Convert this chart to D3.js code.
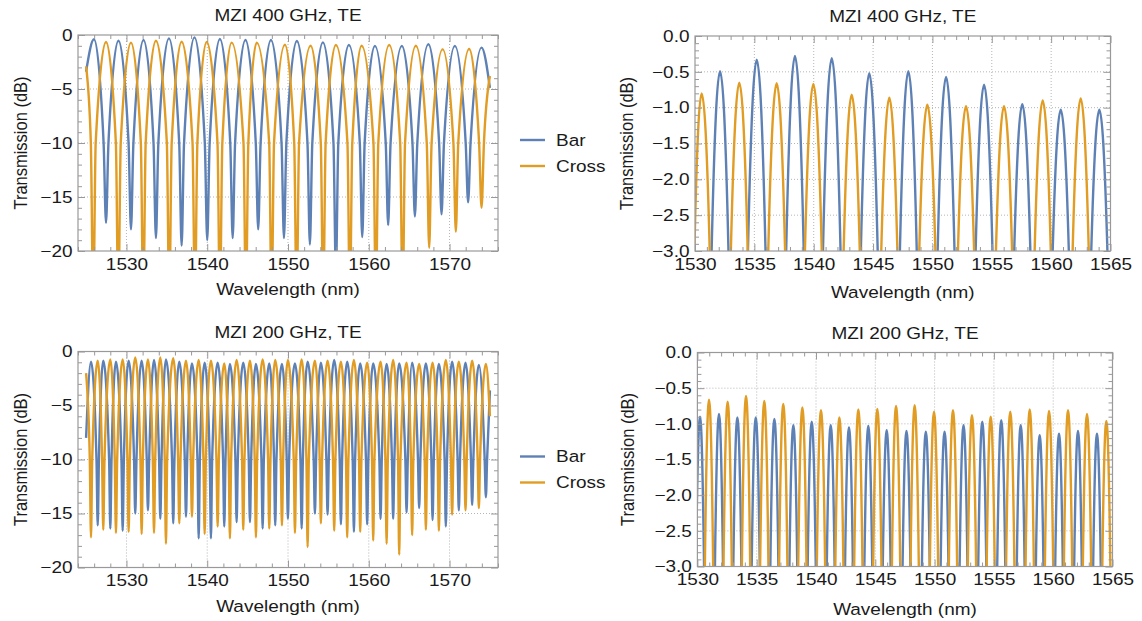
<!DOCTYPE html>
<html>
<head>
<meta charset="UTF-8">
<title>MZI transmission</title>
<script src="https://cdn.jsdelivr.net/npm/d3@7"></script>
<style>
  body { margin: 0; background: #fff; }
  svg text { font-family: "Liberation Sans", Arial, sans-serif; fill: #1a1a1a; }
</style>
</head>
<body>
<script>

// ---- data: [wavelength (nm), transmission (dB)] ----
// 400 GHz, full band
var tlBar = [
  [1525.00,-3.4],[1525.98,-0.40],
  [1527.17,-10],[1527.47,-17.4],[1527.77,-10],[1529.01,-0.53],
  [1530.26,-10],[1530.56,-18.0],[1530.86,-10],[1532.11,-0.46],
  [1533.35,-10],[1533.65,-18.8],[1533.95,-10],[1535.26,-0.31],
  [1536.53,-10],[1536.83,-19.5],[1537.13,-10],[1538.42,-0.22],
  [1539.70,-10],[1540.00,-19.0],[1540.30,-10],[1541.57,-0.37],
  [1542.85,-10],[1543.15,-18.8],[1543.45,-10],[1544.73,-0.46],
  [1546.01,-10],[1546.31,-18.0],[1546.61,-10],[1547.89,-0.46],
  [1549.20,-10],[1549.50,-18.8],[1549.80,-10],[1551.10,-0.55],
  [1552.41,-10],[1552.71,-19.4],[1553.01,-10],[1554.32,-0.68],
  [1555.63,-10],[1555.93,-22.0],[1556.23,-10],[1557.54,-0.93],
  [1558.89,-10],[1559.19,-18.7],[1559.49,-10],[1560.76,-1.02],
  [1562.10,-10],[1562.40,-17.6],[1562.70,-10],[1564.10,-1.02],
  [1565.41,-10],[1565.71,-16.8],[1566.01,-10],[1567.38,-0.86],
  [1568.71,-10],[1569.01,-16.6],[1569.31,-10],[1570.66,-1.02],
  [1572.00,-10],[1572.30,-15.5],[1572.60,-10],[1573.96,-1.17],
  [1575.00,-4.9]
];
var tlCross = [
  [1525.00,-2.9],
  [1525.59,-10],[1525.89,-25],[1526.19,-10],[1527.47,-0.65],
  [1528.69,-10],[1528.99,-25],[1529.29,-10],[1530.56,-0.71],
  [1531.78,-10],[1532.08,-25],[1532.38,-10],[1533.65,-0.53],
  [1535.00,-10],[1535.30,-25],[1535.60,-10],[1536.83,-0.62],
  [1538.18,-10],[1538.48,-25],[1538.78,-10],[1539.93,-0.65],
  [1541.27,-10],[1541.57,-25],[1541.87,-10],[1543.02,-0.71],
  [1544.49,-10],[1544.79,-25],[1545.09,-10],[1546.12,-0.71],
  [1547.67,-10],[1547.97,-25],[1548.27,-10],[1549.62,-0.90],
  [1550.77,-10],[1551.07,-25],[1551.37,-10],[1552.80,-0.99],
  [1554.06,-10],[1554.36,-25],[1554.66,-10],[1555.93,-0.93],
  [1557.36,-10],[1557.66,-25],[1557.96,-10],[1559.11,-0.99],
  [1560.58,-10],[1560.88,-25],[1561.18,-10],[1562.53,-0.93],
  [1563.89,-10],[1564.19,-25],[1564.49,-10],[1565.83,-0.99],
  [1567.18,-10],[1567.48,-19.7],[1567.78,-10],[1569.14,-1.33],
  [1570.48,-10],[1570.78,-18.2],[1571.08,-10],[1572.43,-1.30],
  [1573.66,-10],[1573.96,-16.0],[1574.26,-10],
  [1575.00,-3.8]
];

// 400 GHz, 1530-1565 close-up
var trBar = [
  [1530.56,-20],
  [1531.40,-3],[1532.11,-0.49],[1532.82,-3],[1533.73,-20],
  [1534.46,-3],[1535.20,-0.33],[1535.94,-3],[1536.88,-20],
  [1537.68,-3],[1538.42,-0.28],[1539.16,-3],[1539.97,-20],
  [1540.78,-3],[1541.52,-0.31],[1542.26,-3],[1543.20,-20],
  [1543.97,-3],[1544.68,-0.52],[1545.39,-3],[1546.37,-20],
  [1547.26,-3],[1547.97,-0.49],[1548.68,-3],[1549.57,-20],
  [1550.44,-3],[1551.15,-0.57],[1551.86,-3],[1552.83,-20],
  [1553.64,-3],[1554.35,-0.68],[1555.06,-3],[1556.03,-20],
  [1556.89,-3],[1557.57,-0.95],[1558.25,-3],[1559.29,-20],
  [1560.13,-3],[1560.81,-1.03],[1561.49,-3],[1562.49,-20],
  [1563.38,-3],[1564.06,-1.03],[1564.74,-3],[1565.60,-20]
];
var trCross = [
  [1529.00,-20],
  [1529.95,-3],[1530.56,-0.80],[1531.24,-3],[1532.11,-20],
  [1533.02,-3],[1533.73,-0.65],[1534.44,-3],[1535.20,-20],
  [1536.17,-3],[1536.88,-0.66],[1537.59,-3],[1538.42,-20],
  [1539.26,-3],[1539.97,-0.67],[1540.68,-3],[1541.52,-20],
  [1542.52,-3],[1543.20,-0.82],[1543.88,-3],[1544.68,-20],
  [1545.69,-3],[1546.37,-0.86],[1547.05,-3],[1547.97,-20],
  [1548.89,-3],[1549.57,-0.96],[1550.25,-3],[1551.15,-20],
  [1552.15,-3],[1552.83,-0.98],[1553.51,-3],[1554.35,-20],
  [1555.35,-3],[1556.03,-0.98],[1556.71,-3],[1557.57,-20],
  [1558.61,-3],[1559.29,-0.90],[1559.97,-3],[1560.81,-20],
  [1561.81,-3],[1562.49,-0.87],[1563.17,-3],[1564.06,-20]
];

// 200 GHz, full band
var blBar = [
  [1525.00,-8.0],[1525.61,-0.94],
  [1526.29,-10],[1526.44,-16.1],[1526.59,-10],[1527.13,-0.85],
  [1527.85,-10],[1528.00,-16.4],[1528.15,-10],[1528.70,-0.94],
  [1529.38,-10],[1529.53,-16.6],[1529.68,-10],[1530.27,-0.85],
  [1530.94,-10],[1531.09,-15.0],[1531.24,-10],[1531.88,-0.85],
  [1532.51,-10],[1532.66,-14.7],[1532.81,-10],[1533.41,-0.79],
  [1534.04,-10],[1534.19,-15.5],[1534.34,-10],[1534.89,-0.73],
  [1535.64,-10],[1535.79,-15.9],[1535.94,-10],[1536.54,-0.94],
  [1537.22,-10],[1537.37,-15.3],[1537.52,-10],[1538.11,-1.10],
  [1538.79,-10],[1538.94,-17.3],[1539.09,-10],[1539.68,-1.03],
  [1540.31,-10],[1540.46,-17.3],[1540.61,-10],[1541.29,-1.03],
  [1541.96,-10],[1542.11,-16.2],[1542.26,-10],[1542.81,-1.16],
  [1543.49,-10],[1543.64,-15.8],[1543.79,-10],[1544.46,-1.03],
  [1545.14,-10],[1545.29,-15.8],[1545.44,-10],[1546.03,-1.16],
  [1546.71,-10],[1546.86,-16.4],[1547.01,-10],[1547.68,-1.10],
  [1548.27,-10],[1548.42,-16.1],[1548.57,-10],[1549.25,-1.16],
  [1549.84,-10],[1549.99,-15.5],[1550.14,-10],[1550.86,-1.10],
  [1551.54,-10],[1551.69,-16.4],[1551.84,-10],[1552.43,-0.94],
  [1553.18,-10],[1553.33,-15.0],[1553.48,-10],[1554.07,-1.03],
  [1554.75,-10],[1554.90,-15.1],[1555.05,-10],[1555.72,-0.79],
  [1556.40,-10],[1556.55,-16.0],[1556.70,-10],[1557.33,-0.94],
  [1558.01,-10],[1558.16,-16.7],[1558.31,-10],[1558.94,-1.10],
  [1559.65,-10],[1559.80,-16.0],[1559.95,-10],[1560.55,-1.10],
  [1561.31,-10],[1561.46,-15.5],[1561.61,-10],[1562.21,-1.16],
  [1562.87,-10],[1563.02,-15.5],[1563.17,-10],[1563.77,-1.10],
  [1564.53,-10],[1564.68,-14.9],[1564.83,-10],[1565.37,-1.03],
  [1566.09,-10],[1566.24,-14.5],[1566.39,-10],[1567.07,-1.10],
  [1567.75,-10],[1567.90,-15.6],[1568.05,-10],[1568.68,-1.16],
  [1569.39,-10],[1569.54,-16.2],[1569.69,-10],[1570.32,-0.94],
  [1571.00,-10],[1571.15,-14.7],[1571.30,-10],[1571.98,-1.03],
  [1572.65,-10],[1572.80,-14.2],[1572.95,-10],[1573.63,-1.25],
  [1574.35,-10],[1574.50,-13.5],[1574.65,-10],
  [1575.00,-3.6]
];
var blCross = [
  [1525.00,-2.0],
  [1525.46,-10],[1525.61,-17.2],[1525.76,-10],[1526.44,-0.85],
  [1526.98,-10],[1527.13,-16.5],[1527.28,-10],[1528.00,-0.73],
  [1528.55,-10],[1528.70,-16.8],[1528.85,-10],[1529.53,-0.73],
  [1530.12,-10],[1530.27,-16.7],[1530.42,-10],[1531.09,-0.54],
  [1531.73,-10],[1531.88,-16.9],[1532.03,-10],[1532.66,-0.73],
  [1533.26,-10],[1533.41,-16.8],[1533.56,-10],[1534.19,-0.54],
  [1534.74,-10],[1534.89,-17.8],[1535.04,-10],[1535.79,-0.63],
  [1536.39,-10],[1536.54,-15.9],[1536.69,-10],[1537.37,-0.85],
  [1537.96,-10],[1538.11,-15.3],[1538.26,-10],[1538.94,-0.79],
  [1539.53,-10],[1539.68,-16.9],[1539.83,-10],[1540.46,-0.85],
  [1541.14,-10],[1541.29,-16.2],[1541.44,-10],[1542.11,-1.10],
  [1542.66,-10],[1542.81,-17.3],[1542.96,-10],[1543.64,-0.79],
  [1544.31,-10],[1544.46,-16.5],[1544.61,-10],[1545.29,-0.85],
  [1545.88,-10],[1546.03,-17.2],[1546.18,-10],[1546.86,-0.73],
  [1547.53,-10],[1547.68,-16.4],[1547.83,-10],[1548.42,-0.79],
  [1549.10,-10],[1549.25,-16.1],[1549.40,-10],[1549.99,-0.79],
  [1550.71,-10],[1550.86,-16.8],[1551.01,-10],[1551.69,-0.73],
  [1552.28,-10],[1552.43,-18.1],[1552.58,-10],[1553.33,-0.85],
  [1553.92,-10],[1554.07,-15.9],[1554.22,-10],[1554.90,-0.85],
  [1555.57,-10],[1555.72,-16.6],[1555.87,-10],[1556.55,-0.94],
  [1557.18,-10],[1557.33,-17.2],[1557.48,-10],[1558.16,-0.79],
  [1558.79,-10],[1558.94,-16.7],[1559.09,-10],[1559.80,-1.03],
  [1560.40,-10],[1560.55,-17.5],[1560.70,-10],[1561.46,-0.94],
  [1562.06,-10],[1562.21,-17.8],[1562.36,-10],[1563.02,-0.79],
  [1563.62,-10],[1563.77,-18.8],[1563.92,-10],[1564.68,-1.03],
  [1565.22,-10],[1565.37,-17.0],[1565.52,-10],[1566.24,-1.16],
  [1566.92,-10],[1567.07,-16.5],[1567.22,-10],[1567.90,-1.03],
  [1568.53,-10],[1568.68,-16.6],[1568.83,-10],[1569.54,-0.79],
  [1570.17,-10],[1570.32,-15.1],[1570.47,-10],[1571.15,-0.94],
  [1571.83,-10],[1571.98,-14.7],[1572.13,-10],[1572.80,-0.85],
  [1573.48,-10],[1573.63,-14.5],[1573.78,-10],[1574.50,-1.16],
  [1575.00,-6.0]
];

// 200 GHz, 1530-1565 close-up
var brBar = [
  [1529.40,-16],
  [1529.88,-3],[1530.22,-0.90],[1530.56,-3],[1530.98,-16],
  [1531.48,-3],[1531.82,-0.86],[1532.16,-3],[1532.55,-16],
  [1533.03,-3],[1533.37,-0.91],[1533.71,-3],[1534.10,-16],
  [1534.58,-3],[1534.92,-0.91],[1535.26,-3],[1535.64,-16],
  [1536.15,-3],[1536.49,-0.93],[1536.83,-3],[1537.24,-16],
  [1537.76,-3],[1538.09,-1.02],[1538.42,-3],[1538.85,-16],
  [1539.30,-3],[1539.64,-0.97],[1539.98,-3],[1540.42,-16],
  [1540.91,-3],[1541.24,-1.02],[1541.57,-3],[1541.97,-16],
  [1542.45,-3],[1542.78,-1.05],[1543.11,-3],[1543.57,-16],
  [1544.08,-3],[1544.41,-1.03],[1544.74,-3],[1545.17,-16],
  [1545.63,-3],[1545.96,-1.09],[1546.29,-3],[1546.75,-16],
  [1547.30,-3],[1547.63,-1.10],[1547.96,-3],[1548.32,-16],
  [1548.93,-3],[1549.26,-1.11],[1549.59,-3],[1549.95,-16],
  [1550.51,-3],[1550.84,-1.11],[1551.17,-3],[1551.55,-16],
  [1552.11,-3],[1552.44,-1.02],[1552.77,-3],[1553.15,-16],
  [1553.68,-3],[1554.02,-0.97],[1554.36,-3],[1554.73,-16],
  [1555.28,-3],[1555.62,-0.95],[1555.96,-3],[1556.38,-16],
  [1556.93,-3],[1557.26,-1.02],[1557.59,-3],[1558.02,-16],
  [1558.54,-3],[1558.86,-1.16],[1559.18,-3],[1559.65,-16],
  [1560.17,-3],[1560.49,-1.14],[1560.81,-3],[1561.25,-16],
  [1561.77,-3],[1562.09,-1.10],[1562.41,-3],[1562.85,-16],
  [1563.37,-3],[1563.69,-1.14],[1564.01,-3],[1564.48,-16]
];
var brCross = [
  [1530.22,-16],
  [1530.63,-3],[1530.98,-0.66],[1531.33,-3],[1531.82,-16],
  [1532.20,-3],[1532.55,-0.69],[1532.90,-3],[1533.37,-16],
  [1533.75,-3],[1534.10,-0.61],[1534.45,-3],[1534.92,-16],
  [1535.29,-3],[1535.64,-0.68],[1535.99,-3],[1536.49,-16],
  [1536.89,-3],[1537.24,-0.72],[1537.59,-3],[1538.09,-16],
  [1538.50,-3],[1538.85,-0.77],[1539.20,-3],[1539.64,-16],
  [1540.07,-3],[1540.42,-0.81],[1540.77,-3],[1541.24,-16],
  [1541.63,-3],[1541.97,-0.91],[1542.31,-3],[1542.78,-16],
  [1543.22,-3],[1543.57,-0.80],[1543.92,-3],[1544.41,-16],
  [1544.82,-3],[1545.17,-0.79],[1545.52,-3],[1545.96,-16],
  [1546.40,-3],[1546.75,-0.75],[1547.10,-3],[1547.63,-16],
  [1547.97,-3],[1548.32,-0.74],[1548.67,-3],[1549.26,-16],
  [1549.60,-3],[1549.95,-0.83],[1550.30,-3],[1550.84,-16],
  [1551.20,-3],[1551.55,-0.81],[1551.90,-3],[1552.44,-16],
  [1552.80,-3],[1553.15,-0.88],[1553.50,-3],[1554.02,-16],
  [1554.39,-3],[1554.73,-0.90],[1555.07,-3],[1555.62,-16],
  [1556.03,-3],[1556.38,-0.83],[1556.73,-3],[1557.26,-16],
  [1557.67,-3],[1558.02,-0.80],[1558.37,-3],[1558.86,-16],
  [1559.30,-3],[1559.65,-0.82],[1560.00,-3],[1560.49,-16],
  [1560.90,-3],[1561.25,-0.81],[1561.60,-3],[1562.09,-16],
  [1562.50,-3],[1562.85,-0.86],[1563.20,-3],[1563.69,-16],
  [1564.14,-3],[1564.48,-0.96],[1564.82,-3],[1565.30,-16]
];

var titles = ["MZI 400 GHz, TE", "MZI 400 GHz, TE", "MZI 200 GHz, TE", "MZI 200 GHz, TE"];
var seriesNames = ["Bar", "Cross"];
var seriesColors = ["#5e81b5", "#e19c24"];
var wideXTicks = [1530, 1540, 1550, 1560, 1570];
var wideYTicks = [0, -5, -10, -15, -20];
var zoomXTicks = [1530, 1535, 1540, 1545, 1550, 1555, 1560, 1565];
var zoomYTicks = [0, -0.5, -1, -1.5, -2, -2.5, -3];

// ---- layout ----
var frameColor = "#999999",
    gridColor = "#b5b5b5",
    fontSize = 16.5,
    stretch = 1.15;   // the source picture is a little wider than tall

var panels = [
  { title: titles[0], series: [tlBar, tlCross], box: [78, 35, 498, 251],
    xDom: [1524, 1576], yDom: [-20, 0], xTicks: wideXTicks, yTicks: wideYTicks,
    xMinor: 2, yMinor: 1, fmt: d3.format("d"), legend: true, yLabX: 27, xLabY: 295 },
  { title: titles[1], series: [trBar, trCross], box: [695, 36, 1110.5, 251],
    xDom: [1530, 1565], yDom: [-3, 0], xTicks: zoomXTicks, yTicks: zoomYTicks,
    xMinor: 1, yMinor: 0.1, fmt: d3.format(".1f"), legend: false, yLabX: 633, xLabY: 298 },
  { title: titles[2], series: [blBar, blCross], box: [78, 351.5, 498, 567.5],
    xDom: [1524, 1576], yDom: [-20, 0], xTicks: wideXTicks, yTicks: wideYTicks,
    xMinor: 2, yMinor: 1, fmt: d3.format("d"), legend: true, yLabX: 27, xLabY: 611.5 },
  { title: titles[3], series: [brBar, brCross], box: [697.4, 352.5, 1112.5, 566.5],
    xDom: [1530, 1565], yDom: [-3, 0], xTicks: zoomXTicks, yTicks: zoomYTicks,
    xMinor: 1, yMinor: 0.1, fmt: d3.format(".1f"), legend: false, yLabX: 634, xLabY: 614.5 }
];

var svg = d3.select("body").append("svg")
  .attr("width", 1142)
  .attr("height", 621);

function minorTicks(dom, step, major) {
  var lo = Math.ceil(dom[0] / step - 1e-6), hi = Math.floor(dom[1] / step + 1e-6);
  return d3.range(lo, hi + 1).map(function(k) { return +(k * step).toFixed(3); })
    .filter(function(v) { return major.every(function(m) { return Math.abs(m - v) > 1e-6; }); });
}

function styleAxis(g) {
  g.select(".domain").remove();
  g.selectAll("line").attr("stroke", frameColor).attr("stroke-width", 1);
  g.attr("font-family", null).attr("font-size", fontSize);
  g.selectAll("text").attr("fill", "#1a1a1a").attr("transform", "scale(" + stretch + ",1)");
}

function label(g, x, y, txt, extra) {
  return g.append("text")
    .attr("transform", "translate(" + x + "," + y + ") scale(" + stretch + ",1)" + (extra || ""))
    .attr("text-anchor", "middle")
    .attr("font-size", fontSize)
    .text(txt);
}

panels.forEach(function(p, i) {
  var l = p.box[0], t = p.box[1], r = p.box[2], b = p.box[3];
  var x = d3.scaleLinear().domain(p.xDom).range([l, r]);
  var y = d3.scaleLinear().domain(p.yDom).range([b, t]);
  var g = svg.append("g").attr("class", "panel");

  // dotted grid
  g.append("g").selectAll("line")
    .data(p.xTicks.filter(function(v) { return v > p.xDom[0] && v < p.xDom[1]; }))
    .enter().append("line")
    .attr("x1", function(d) { return x(d); }).attr("x2", function(d) { return x(d); })
    .attr("y1", t).attr("y2", b)
    .attr("stroke", gridColor).attr("stroke-dasharray", "1,2");
  g.append("g").selectAll("line")
    .data(p.yTicks.filter(function(v) { return v > p.yDom[0] && v < p.yDom[1]; }))
    .enter().append("line")
    .attr("x1", l).attr("x2", r)
    .attr("y1", function(d) { return y(d); }).attr("y2", function(d) { return y(d); })
    .attr("stroke", gridColor).attr("stroke-dasharray", "1,2");

  // curves, clipped to the frame
  var clipId = "clip" + i;
  svg.append("defs").append("clipPath").attr("id", clipId)
    .append("rect").attr("x", l).attr("y", t).attr("width", r - l).attr("height", b - t);

  var line = d3.line()
    .x(function(d) { return x(d[0]); })
    .y(function(d) { return y(d[1]); })
    .curve(d3.curveMonotoneX);

  g.append("g").attr("clip-path", "url(#" + clipId + ")")
    .selectAll("path")
    .data(p.series)
    .enter().append("path")
    .attr("d", line)
    .attr("fill", "none")
    .attr("stroke", function(d, k) { return seriesColors[k]; })
    .attr("stroke-width", 2.4)
    .attr("stroke-linejoin", "round");

  // frame ticks (inward on all four sides)
  var mx = minorTicks(p.xDom, p.xMinor, p.xTicks),
      my = minorTicks(p.yDom, p.yMinor, p.yTicks);

  g.append("g").attr("transform", "translate(0," + b + ")")
    .call(d3.axisBottom(x).tickValues(p.xTicks).tickSize(-7).tickPadding(7).tickFormat(d3.format("d")))
    .call(styleAxis);
  g.append("g").attr("transform", "translate(0," + b + ")")
    .call(d3.axisBottom(x).tickValues(mx).tickSize(-4).tickFormat(""))
    .call(styleAxis);
  g.append("g").attr("transform", "translate(0," + t + ")")
    .call(d3.axisTop(x).tickValues(p.xTicks).tickSize(-7).tickFormat(""))
    .call(styleAxis);
  g.append("g").attr("transform", "translate(0," + t + ")")
    .call(d3.axisTop(x).tickValues(mx).tickSize(-4).tickFormat(""))
    .call(styleAxis);
  g.append("g").attr("transform", "translate(" + l + ",0)")
    .call(d3.axisLeft(y).tickValues(p.yTicks).tickSize(-7).tickPadding(4.8).tickFormat(p.fmt))
    .call(styleAxis);
  g.append("g").attr("transform", "translate(" + l + ",0)")
    .call(d3.axisLeft(y).tickValues(my).tickSize(-4).tickFormat(""))
    .call(styleAxis);
  g.append("g").attr("transform", "translate(" + r + ",0)")
    .call(d3.axisRight(y).tickValues(p.yTicks).tickSize(-7).tickFormat(""))
    .call(styleAxis);
  g.append("g").attr("transform", "translate(" + r + ",0)")
    .call(d3.axisRight(y).tickValues(my).tickSize(-4).tickFormat(""))
    .call(styleAxis);

  g.append("rect")
    .attr("x", l).attr("y", t).attr("width", r - l).attr("height", b - t)
    .attr("fill", "none").attr("stroke", frameColor).attr("stroke-width", 1.2);

  // texts
  label(g, (l + r) / 2, t - 14, p.title);
  label(g, (l + r) / 2, p.xLabY, "Wavelength (nm)");
  label(g, p.yLabX, (t + b) / 2, "Transmission (dB)", " rotate(-90)");

  if (p.legend) {
    var lg = g.append("g").attr("transform", "translate(520," + (t + 105) + ")");
    var item = lg.selectAll("g").data(seriesNames).enter().append("g")
      .attr("transform", function(d, k) { return "translate(0," + (k * 26) + ")"; });
    item.append("line")
      .attr("x1", 0).attr("x2", 25)
      .attr("stroke", function(d, k) { return seriesColors[k]; })
      .attr("stroke-width", 2.4);
    item.append("text")
      .attr("transform", "translate(36,0) scale(" + stretch + ",1)")
      .attr("dy", "0.35em")
      .attr("font-size", fontSize)
      .text(function(d) { return d; });
  }
});

</script>
</body>
</html>
